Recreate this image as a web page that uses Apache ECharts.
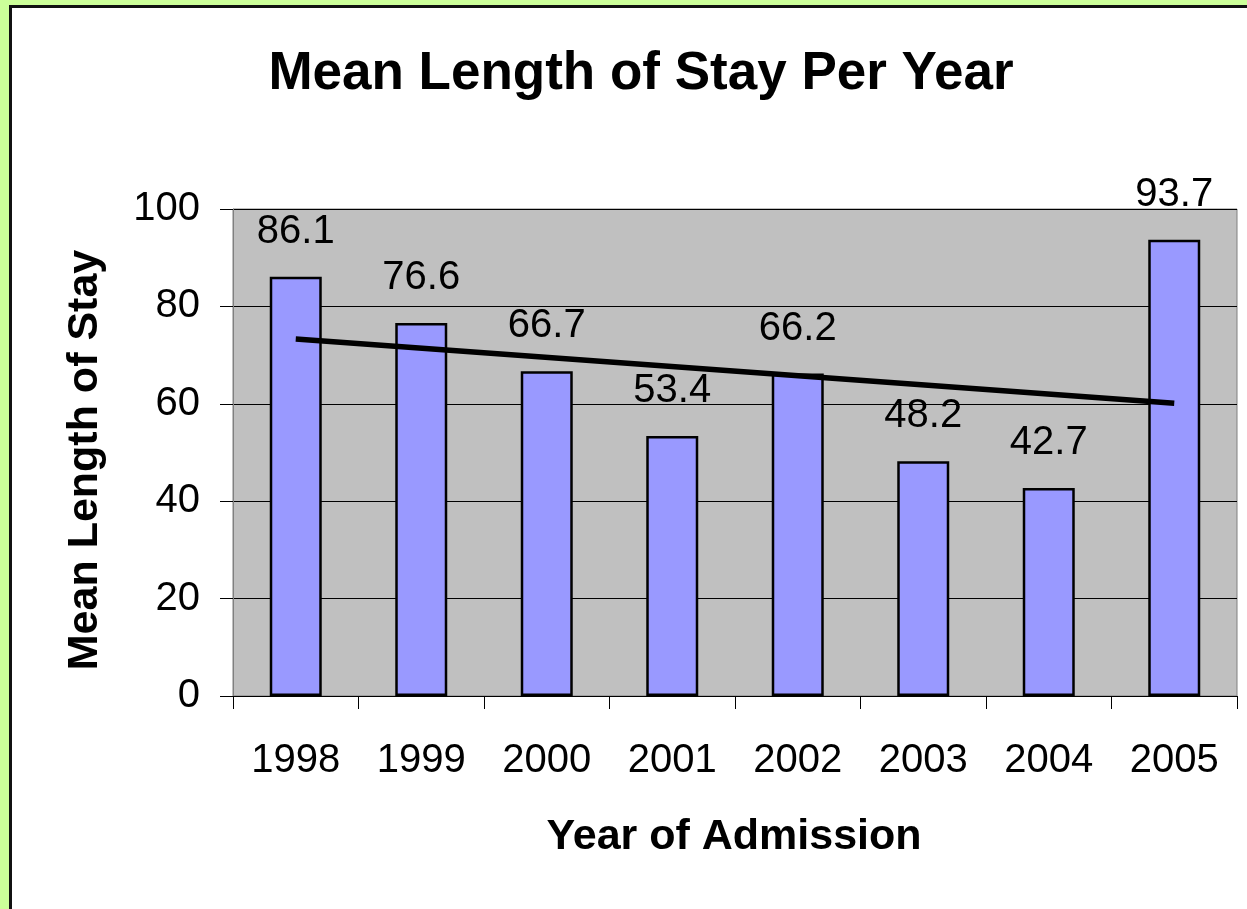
<!DOCTYPE html>
<html>
<head>
<meta charset="utf-8">
<script src="https://cdn.jsdelivr.net/npm/echarts@6/dist/echarts.min.js"></script>
<style>
html,body{margin:0;padding:0;background:#CCFF99;}
#frame{position:absolute;left:9px;top:5px;width:1250px;height:920px;background:#fff;border:3px solid #111;box-sizing:border-box;}
#chart{position:absolute;left:0;top:0;width:1247px;height:909px;}
</style>
</head>
<body>
<div id="frame"></div>
<div id="chart"></div>
<script>
const years = ['1998','1999','2000','2001','2002','2003','2004','2005'];
const meanStay = [86.1, 76.6, 66.7, 53.4, 66.2, 48.2, 42.7, 93.7];
const trendYears = ['1998','2005'];
const trendValues = [73.3, 60.1];
const yTicks = [0, 20, 40, 60, 80, 100];

const FONT = '"Liberation Sans", Arial, sans-serif';
const chart = echarts.init(document.getElementById('chart'), null, {renderer:'canvas'});
chart.setOption({
  backgroundColor: 'transparent',
  animation: false,
  grid: {left:233, right:10, top:209, bottom:213, show:true, backgroundColor:'#C0C0C0', borderColor:'#808080', borderWidth:1},
  xAxis: {
    type:'category', data: years, boundaryGap:true,
    axisLine:{show:true, lineStyle:{color:'#000', width:1}},
    axisTick:{show:true, length:13, lineStyle:{color:'#000'}},
    axisLabel:{fontFamily:FONT, fontSize:40, color:'#000', margin:45}
  },
  yAxis: {
    type:'value', min:yTicks[0], max:yTicks[yTicks.length-1], interval:20,
    axisLine:{show:true, lineStyle:{color:'#808080', width:1}},
    axisTick:{show:true, length:13, lineStyle:{color:'#000'}},
    splitLine:{show:true, lineStyle:{color:'#000', width:1}},
    axisLabel:{fontFamily:FONT, fontSize:40, color:'#000', margin:33}
  },
  graphic: [
    {type:'text', x:641, y:74, style:{text:'Mean Length of Stay Per Year', font:'bold 53px '+FONT, fill:'#000', textAlign:'center', textVerticalAlign:'middle'}},
    {type:'text', x:85, y:460, rotation:Math.PI/2, style:{text:'Mean Length of Stay', font:'bold 43px '+FONT, fill:'#000', textAlign:'center', textVerticalAlign:'middle'}},
    {type:'text', x:734, y:837, style:{text:'Year of Admission', font:'bold 43px '+FONT, fill:'#000', textAlign:'center', textVerticalAlign:'middle'}}
  ],
  series: [
    {
      type:'bar', data: meanStay, barWidth:52,
      itemStyle:{color:'#9999FF', borderColor:'#000', borderWidth:2.5},
      label:{show:true, position:'top', distance:25, fontFamily:FONT, fontSize:40, color:'#000'},
      z:2
    },
    {
      type:'line', data: trendYears.map((y,i)=>[y, trendValues[i]]),
      symbol:'none', lineStyle:{color:'#000', width:5.5}, z:3
    }
  ]
});
</script>
</body>
</html>
